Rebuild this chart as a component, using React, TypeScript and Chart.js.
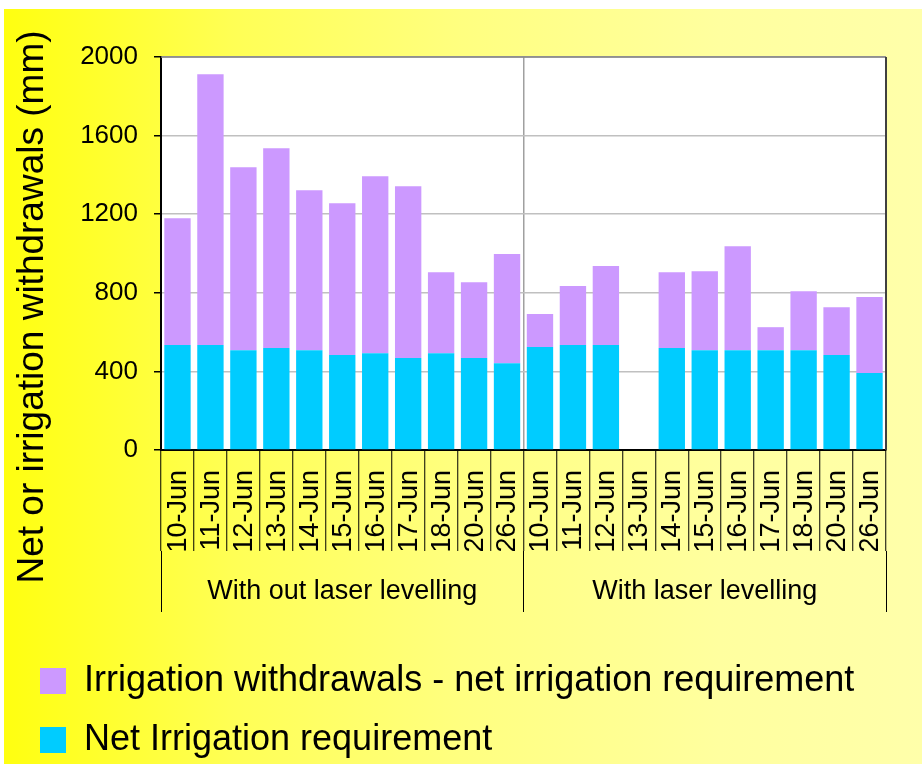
import React, { useEffect, useRef } from 'react';
import { Chart, registerables } from 'chart.js';

Chart.register(...registerables);

// ---- data ----
const dateLabels = [
  '10-Jun', '11-Jun', '12-Jun', '13-Jun', '14-Jun', '15-Jun', '16-Jun', '17-Jun', '18-Jun', '20-Jun', '26-Jun',
  '10-Jun', '11-Jun', '12-Jun', '13-Jun', '14-Jun', '15-Jun', '16-Jun', '17-Jun', '18-Jun', '20-Jun', '26-Jun',
];
const groupLabels = ['With out laser levelling', 'With laser levelling'];
const netRequirement = [534, 534, 508, 519, 508, 483, 493, 468, 493, 468, 442, 524, 534, 534, null, 519, 508, 508, 508, 508, 483, 392];
const withdrawalMinusNet = [646, 1378, 931, 1017, 814, 773, 900, 874, 412, 386, 555, 168, 300, 402, null, 386, 402, 529, 117, 300, 244, 386];
const seriesNames = ['Net Irrigation requirement', 'Irrigation withdrawals - net irrigation requirement'];
const seriesColors = ['#00CCFF', '#CC99FF'];
const yMin = 0;
const yMax = 2000;
const yStep = 400;
const yTitle = 'Net or irrigation withdrawals (mm)';
const groupBoundaryIndex = 11;

const FONT = "'Liberation Sans', Arial, Helvetica, sans-serif";

const plotBgPlugin = {
  id: 'plotBg',
  beforeDraw(chart: any) {
    const { ctx, chartArea } = chart;
    ctx.save();
    ctx.fillStyle = '#ffffff';
    ctx.fillRect(chartArea.left, chartArea.top, chartArea.right - chartArea.left, chartArea.bottom - chartArea.top);
    ctx.restore();
  },
};

const plotBorderPlugin = {
  id: 'plotBorder',
  afterDatasetsDraw(chart: any) {
    const { ctx, chartArea } = chart;
    ctx.save();
    ctx.strokeStyle = '#808080';
    ctx.lineWidth = 1.5;
    ctx.beginPath();
    ctx.moveTo(chartArea.left, chartArea.top);
    ctx.lineTo(chartArea.right, chartArea.top);
    ctx.stroke();
    ctx.strokeStyle = '#404040';
    ctx.lineWidth = 2;
    ctx.beginPath();
    ctx.moveTo(chartArea.right, chartArea.top);
    ctx.lineTo(chartArea.right, chartArea.bottom);
    ctx.stroke();
    ctx.restore();
  },
};

const yTitlePlugin = {
  id: 'yTitle',
  afterDraw(chart: any) {
    const { ctx, chartArea } = chart;
    const xs = chart.scales.x;
    const ys = chart.scales.y;
    const cy = (chartArea.top + xs.bottom) / 2 + 3;
    const cx = ys.left + 16;
    ctx.save();
    ctx.translate(cx, cy);
    ctx.rotate(-Math.PI / 2);
    ctx.font = `37px ${FONT}`;
    ctx.textAlign = 'center';
    ctx.textBaseline = 'middle';
    ctx.fillStyle = '#000000';
    ctx.fillText(yTitle, 0, 0);
    ctx.restore();
  },
};

export default function App() {
  const canvasRef = useRef<HTMLCanvasElement | null>(null);

  useEffect(() => {
    if (!canvasRef.current) return;
    Chart.defaults.font.family = FONT;
    const chart = new Chart(canvasRef.current, {
      type: 'bar',
      data: {
        labels: dateLabels,
        datasets: [
          {
            label: seriesNames[0],
            data: netRequirement as any,
            backgroundColor: seriesColors[0],
            borderWidth: 0,
            barPercentage: 0.8,
            categoryPercentage: 1,
            xAxisID: 'x',
          },
          {
            label: seriesNames[1],
            data: withdrawalMinusNet as any,
            backgroundColor: seriesColors[1],
            borderWidth: 0,
            barPercentage: 0.8,
            categoryPercentage: 1,
            xAxisID: 'x',
          },
        ],
      },
      options: {
        responsive: false,
        animation: false,
        layout: { padding: { left: 13, right: 36, top: 48, bottom: 0 } },
        scales: {
          x: {
            stacked: true,
            offset: true,
            position: 'bottom',
            grid: {
              offset: true,
              drawOnChartArea: true,
              color: (c: any) => (c.index === groupBoundaryIndex ? '#a0a0a0' : 'rgba(0,0,0,0)'),
              lineWidth: 1.5,
              tickColor: '#000000',
              tickWidth: 1,
              tickLength: 101,
            },
            border: { color: '#000000', width: 2 },
            ticks: {
              autoSkip: false,
              minRotation: 90,
              maxRotation: 90,
              padding: -81,
              labelOffset: 1,
              color: '#000000',
              font: { size: 27 },
            },
            afterFit: (s: any) => {
              s.height = 101;
            },
          },
          x2: {
            type: 'category',
            labels: groupLabels,
            position: 'bottom',
            offset: true,
            grid: {
              offset: true,
              drawOnChartArea: false,
              color: '#000000',
              tickColor: '#000000',
              tickWidth: 1,
              tickLength: 61,
            },
            border: { display: false },
            ticks: {
              autoSkip: false,
              maxRotation: 0,
              padding: -37,
              color: '#000000',
              font: { size: 27 },
            },
            afterFit: (s: any) => {
              s.height = 89;
            },
          },
          y: {
            stacked: true,
            min: yMin,
            max: yMax,
            ticks: {
              stepSize: yStep,
              color: '#000000',
              padding: 16,
              font: { size: 26 },
              callback: (v: any) => String(v),
            },
            grid: {
              color: '#c0c0c0',
              lineWidth: 1.5,
              tickColor: '#000000',
              tickWidth: 1.5,
              tickLength: 7,
            },
            border: { color: '#000000', width: 2 },
            afterFit: (s: any) => {
              s.width = 144;
            },
          },
        },
        plugins: {
          legend: {
            position: 'bottom',
            align: 'start',
            reverse: true,
            maxHeight: 124,
            labels: {
              color: '#000000',
              font: { size: 36 },
              boxWidth: 26,
              boxHeight: 26,
              padding: 23,
            },
          },
          tooltip: { enabled: false },
        },
      } as any,
      plugins: [plotBgPlugin, plotBorderPlugin, yTitlePlugin],
    });
    return () => chart.destroy();
  }, []);

  return (
    <div
      style={{
        position: 'absolute',
        left: 4,
        top: 9,
        width: 918,
        height: 755,
        background: 'linear-gradient(to right, #ffff10 0%, #ffff55 25%, #ffff80 50%, #ffff9f 78%, #ffffaa 100%)',
      }}
    >
      <canvas ref={canvasRef} width={918} height={755} style={{ display: 'block' }} />
    </div>
  );
}
